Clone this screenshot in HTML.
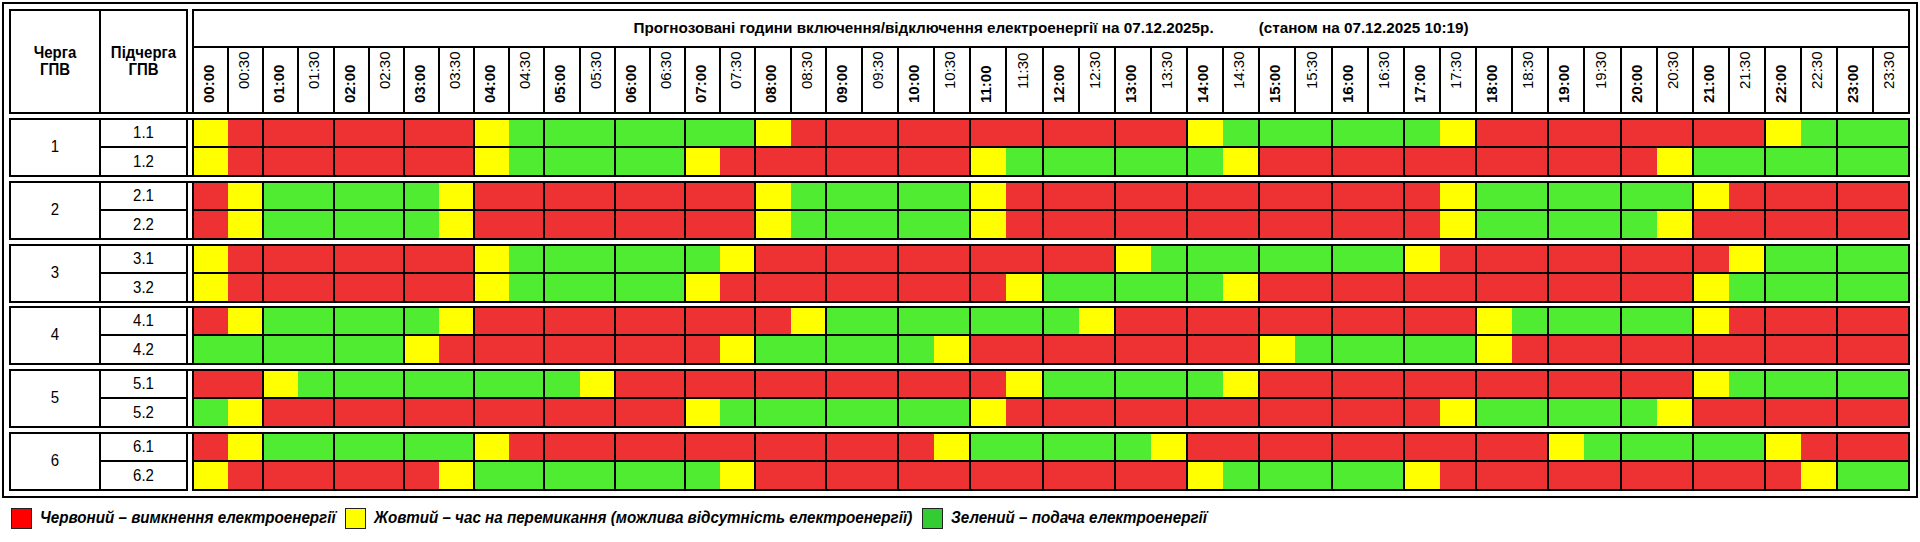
<!DOCTYPE html>
<html><head><meta charset="utf-8"><style>
html,body{margin:0;padding:0;background:#fff;}
body{width:1920px;height:542px;overflow:hidden;position:relative;font-family:"Liberation Sans",sans-serif;color:#000;}
body>div,body>span{position:absolute;}
.hl{font-weight:bold;font-size:15px;line-height:17px;text-align:center;transform-origin:50% 14px;}
.title{font-weight:bold;font-size:15.25px;line-height:17px;text-align:center;white-space:nowrap;transform-origin:50% 14px;}
.tb,.tr{font-size:15px;line-height:17px;white-space:nowrap;transform-origin:0 0;transform:rotate(-90deg) scale(1.0,1.035);}
.tb{font-weight:bold;}
.rl{font-size:15px;line-height:17px;text-align:center;transform-origin:50% 14px;}
.lg{font-weight:bold;font-style:italic;font-size:15.2px;line-height:17px;white-space:nowrap;transform-origin:0 14px;}
</style></head><body>
<div style="left:2px;top:2px;width:1916px;height:2px;background:#000"></div>
<div style="left:2px;top:496px;width:1916px;height:2px;background:#000"></div>
<div style="left:2px;top:2px;width:2px;height:496px;background:#000"></div>
<div style="left:1916px;top:2px;width:2px;height:496px;background:#000"></div>
<div style="left:9px;top:9px;width:179px;height:2px;background:#000"></div>
<div style="left:9px;top:112px;width:179px;height:2px;background:#000"></div>
<div style="left:9px;top:9px;width:2px;height:105px;background:#000"></div>
<div style="left:186px;top:9px;width:2px;height:105px;background:#000"></div>
<div style="left:99px;top:9px;width:2px;height:105px;background:#000"></div>
<div style="left:188px;top:112px;width:4px;height:2px;background:#000"></div>
<div style="left:192px;top:9px;width:1718px;height:2px;background:#000"></div>
<div style="left:192px;top:112px;width:1718px;height:2px;background:#000"></div>
<div style="left:192px;top:9px;width:2px;height:105px;background:#000"></div>
<div style="left:1908px;top:9px;width:2px;height:105px;background:#000"></div>
<div style="left:192px;top:46px;width:1718px;height:2px;background:#000"></div>
<div style="left:227px;top:46px;width:2px;height:68px;background:#000"></div>
<div style="left:262px;top:46px;width:2px;height:68px;background:#000"></div>
<div style="left:297px;top:46px;width:2px;height:68px;background:#000"></div>
<div style="left:333px;top:46px;width:2px;height:68px;background:#000"></div>
<div style="left:368px;top:46px;width:2px;height:68px;background:#000"></div>
<div style="left:403px;top:46px;width:2px;height:68px;background:#000"></div>
<div style="left:438px;top:46px;width:2px;height:68px;background:#000"></div>
<div style="left:473px;top:46px;width:2px;height:68px;background:#000"></div>
<div style="left:508px;top:46px;width:2px;height:68px;background:#000"></div>
<div style="left:543px;top:46px;width:2px;height:68px;background:#000"></div>
<div style="left:579px;top:46px;width:2px;height:68px;background:#000"></div>
<div style="left:614px;top:46px;width:2px;height:68px;background:#000"></div>
<div style="left:649px;top:46px;width:2px;height:68px;background:#000"></div>
<div style="left:684px;top:46px;width:2px;height:68px;background:#000"></div>
<div style="left:719px;top:46px;width:2px;height:68px;background:#000"></div>
<div style="left:754px;top:46px;width:2px;height:68px;background:#000"></div>
<div style="left:790px;top:46px;width:2px;height:68px;background:#000"></div>
<div style="left:825px;top:46px;width:2px;height:68px;background:#000"></div>
<div style="left:861px;top:46px;width:2px;height:68px;background:#000"></div>
<div style="left:897px;top:46px;width:2px;height:68px;background:#000"></div>
<div style="left:933px;top:46px;width:2px;height:68px;background:#000"></div>
<div style="left:969px;top:46px;width:2px;height:68px;background:#000"></div>
<div style="left:1005px;top:46px;width:2px;height:68px;background:#000"></div>
<div style="left:1042px;top:46px;width:2px;height:68px;background:#000"></div>
<div style="left:1078px;top:46px;width:2px;height:68px;background:#000"></div>
<div style="left:1114px;top:46px;width:2px;height:68px;background:#000"></div>
<div style="left:1150px;top:46px;width:2px;height:68px;background:#000"></div>
<div style="left:1186px;top:46px;width:2px;height:68px;background:#000"></div>
<div style="left:1222px;top:46px;width:2px;height:68px;background:#000"></div>
<div style="left:1258px;top:46px;width:2px;height:68px;background:#000"></div>
<div style="left:1294px;top:46px;width:2px;height:68px;background:#000"></div>
<div style="left:1331px;top:46px;width:2px;height:68px;background:#000"></div>
<div style="left:1367px;top:46px;width:2px;height:68px;background:#000"></div>
<div style="left:1403px;top:46px;width:2px;height:68px;background:#000"></div>
<div style="left:1439px;top:46px;width:2px;height:68px;background:#000"></div>
<div style="left:1475px;top:46px;width:2px;height:68px;background:#000"></div>
<div style="left:1511px;top:46px;width:2px;height:68px;background:#000"></div>
<div style="left:1547px;top:46px;width:2px;height:68px;background:#000"></div>
<div style="left:1583px;top:46px;width:2px;height:68px;background:#000"></div>
<div style="left:1620px;top:46px;width:2px;height:68px;background:#000"></div>
<div style="left:1656px;top:46px;width:2px;height:68px;background:#000"></div>
<div style="left:1692px;top:46px;width:2px;height:68px;background:#000"></div>
<div style="left:1728px;top:46px;width:2px;height:68px;background:#000"></div>
<div style="left:1764px;top:46px;width:2px;height:68px;background:#000"></div>
<div style="left:1800px;top:46px;width:2px;height:68px;background:#000"></div>
<div style="left:1836px;top:46px;width:2px;height:68px;background:#000"></div>
<div style="left:1872px;top:46px;width:2px;height:68px;background:#000"></div>
<div class="hl" style="left:11px;width:88px;top:44px;transform:scaleY(1.07)">Черга</div>
<div class="hl" style="left:11px;width:88px;top:61px;transform:scaleY(1.07)">ГПВ</div>
<div class="hl" style="left:101px;width:85px;top:44px;transform:scaleY(1.07)">Підчерга</div>
<div class="hl" style="left:101px;width:85px;top:61px;transform:scaleY(1.07)">ГПВ</div>
<div class="title" style="left:192px;width:1718px;top:19px">Прогнозовані години включення/відключення електроенергії на 07.12.2025р.<span style="display:inline-block;width:45px"></span>(станом на 07.12.2025 10:19)</div>
<div class="tb" style="left:199.50px;top:103px">00:00</div>
<div class="tr" style="left:234.50px;top:89px">00:30</div>
<div class="tb" style="left:269.50px;top:103px">01:00</div>
<div class="tr" style="left:305.00px;top:89px">01:30</div>
<div class="tb" style="left:340.50px;top:103px">02:00</div>
<div class="tr" style="left:375.50px;top:89px">02:30</div>
<div class="tb" style="left:410.50px;top:103px">03:00</div>
<div class="tr" style="left:445.50px;top:89px">03:30</div>
<div class="tb" style="left:480.50px;top:103px">04:00</div>
<div class="tr" style="left:515.50px;top:89px">04:30</div>
<div class="tb" style="left:551.00px;top:103px">05:00</div>
<div class="tr" style="left:586.50px;top:89px">05:30</div>
<div class="tb" style="left:621.50px;top:103px">06:00</div>
<div class="tr" style="left:656.50px;top:89px">06:30</div>
<div class="tb" style="left:691.50px;top:103px">07:00</div>
<div class="tr" style="left:726.50px;top:89px">07:30</div>
<div class="tb" style="left:762.00px;top:103px">08:00</div>
<div class="tr" style="left:797.50px;top:89px">08:30</div>
<div class="tb" style="left:833.00px;top:103px">09:00</div>
<div class="tr" style="left:869.00px;top:89px">09:30</div>
<div class="tb" style="left:905.00px;top:103px">10:00</div>
<div class="tr" style="left:941.00px;top:89px">10:30</div>
<div class="tb" style="left:977.00px;top:103px">11:00</div>
<div class="tr" style="left:1013.50px;top:89px">11:30</div>
<div class="tb" style="left:1050.00px;top:103px">12:00</div>
<div class="tr" style="left:1086.00px;top:89px">12:30</div>
<div class="tb" style="left:1122.00px;top:103px">13:00</div>
<div class="tr" style="left:1158.00px;top:89px">13:30</div>
<div class="tb" style="left:1194.00px;top:103px">14:00</div>
<div class="tr" style="left:1230.00px;top:89px">14:30</div>
<div class="tb" style="left:1266.00px;top:103px">15:00</div>
<div class="tr" style="left:1302.50px;top:89px">15:30</div>
<div class="tb" style="left:1339.00px;top:103px">16:00</div>
<div class="tr" style="left:1375.00px;top:89px">16:30</div>
<div class="tb" style="left:1411.00px;top:103px">17:00</div>
<div class="tr" style="left:1447.00px;top:89px">17:30</div>
<div class="tb" style="left:1483.00px;top:103px">18:00</div>
<div class="tr" style="left:1519.00px;top:89px">18:30</div>
<div class="tb" style="left:1555.00px;top:103px">19:00</div>
<div class="tr" style="left:1591.50px;top:89px">19:30</div>
<div class="tb" style="left:1628.00px;top:103px">20:00</div>
<div class="tr" style="left:1664.00px;top:89px">20:30</div>
<div class="tb" style="left:1700.00px;top:103px">21:00</div>
<div class="tr" style="left:1736.00px;top:89px">21:30</div>
<div class="tb" style="left:1772.00px;top:103px">22:00</div>
<div class="tr" style="left:1808.00px;top:89px">22:30</div>
<div class="tb" style="left:1844.00px;top:103px">23:00</div>
<div class="tr" style="left:1880.00px;top:89px">23:30</div>
<div style="left:192px;top:120px;width:36px;height:26px;background:#ffff00"></div>
<div style="left:228px;top:120px;width:246px;height:26px;background:#ee3233"></div>
<div style="left:474px;top:120px;width:35px;height:26px;background:#ffff00"></div>
<div style="left:509px;top:120px;width:246px;height:26px;background:#4fec31"></div>
<div style="left:755px;top:120px;width:36px;height:26px;background:#ffff00"></div>
<div style="left:791px;top:120px;width:396px;height:26px;background:#ee3233"></div>
<div style="left:1187px;top:120px;width:36px;height:26px;background:#ffff00"></div>
<div style="left:1223px;top:120px;width:217px;height:26px;background:#4fec31"></div>
<div style="left:1440px;top:120px;width:36px;height:26px;background:#ffff00"></div>
<div style="left:1476px;top:120px;width:289px;height:26px;background:#ee3233"></div>
<div style="left:1765px;top:120px;width:36px;height:26px;background:#ffff00"></div>
<div style="left:1801px;top:120px;width:107px;height:26px;background:#4fec31"></div>
<div style="left:192px;top:148px;width:36px;height:27px;background:#ffff00"></div>
<div style="left:228px;top:148px;width:246px;height:27px;background:#ee3233"></div>
<div style="left:474px;top:148px;width:35px;height:27px;background:#ffff00"></div>
<div style="left:509px;top:148px;width:176px;height:27px;background:#4fec31"></div>
<div style="left:685px;top:148px;width:35px;height:27px;background:#ffff00"></div>
<div style="left:720px;top:148px;width:250px;height:27px;background:#ee3233"></div>
<div style="left:970px;top:148px;width:36px;height:27px;background:#ffff00"></div>
<div style="left:1006px;top:148px;width:217px;height:27px;background:#4fec31"></div>
<div style="left:1223px;top:148px;width:36px;height:27px;background:#ffff00"></div>
<div style="left:1259px;top:148px;width:398px;height:27px;background:#ee3233"></div>
<div style="left:1657px;top:148px;width:36px;height:27px;background:#ffff00"></div>
<div style="left:1693px;top:148px;width:215px;height:27px;background:#4fec31"></div>
<div style="left:9px;top:118px;width:179px;height:2px;background:#000"></div>
<div style="left:9px;top:175px;width:179px;height:2px;background:#000"></div>
<div style="left:9px;top:118px;width:2px;height:59px;background:#000"></div>
<div style="left:186px;top:118px;width:2px;height:59px;background:#000"></div>
<div style="left:99px;top:118px;width:2px;height:59px;background:#000"></div>
<div style="left:100px;top:146px;width:88px;height:2px;background:#000"></div>
<div style="left:192px;top:118px;width:1718px;height:2px;background:#000"></div>
<div style="left:192px;top:175px;width:1718px;height:2px;background:#000"></div>
<div style="left:192px;top:118px;width:2px;height:59px;background:#000"></div>
<div style="left:1908px;top:118px;width:2px;height:59px;background:#000"></div>
<div style="left:192px;top:146px;width:1718px;height:2px;background:#000"></div>
<div style="left:262px;top:118px;width:2px;height:59px;background:#000"></div>
<div style="left:333px;top:118px;width:2px;height:59px;background:#000"></div>
<div style="left:403px;top:118px;width:2px;height:59px;background:#000"></div>
<div style="left:473px;top:118px;width:2px;height:59px;background:#000"></div>
<div style="left:543px;top:118px;width:2px;height:59px;background:#000"></div>
<div style="left:614px;top:118px;width:2px;height:59px;background:#000"></div>
<div style="left:684px;top:118px;width:2px;height:59px;background:#000"></div>
<div style="left:754px;top:118px;width:2px;height:59px;background:#000"></div>
<div style="left:825px;top:118px;width:2px;height:59px;background:#000"></div>
<div style="left:897px;top:118px;width:2px;height:59px;background:#000"></div>
<div style="left:969px;top:118px;width:2px;height:59px;background:#000"></div>
<div style="left:1042px;top:118px;width:2px;height:59px;background:#000"></div>
<div style="left:1114px;top:118px;width:2px;height:59px;background:#000"></div>
<div style="left:1186px;top:118px;width:2px;height:59px;background:#000"></div>
<div style="left:1258px;top:118px;width:2px;height:59px;background:#000"></div>
<div style="left:1331px;top:118px;width:2px;height:59px;background:#000"></div>
<div style="left:1403px;top:118px;width:2px;height:59px;background:#000"></div>
<div style="left:1475px;top:118px;width:2px;height:59px;background:#000"></div>
<div style="left:1547px;top:118px;width:2px;height:59px;background:#000"></div>
<div style="left:1620px;top:118px;width:2px;height:59px;background:#000"></div>
<div style="left:1692px;top:118px;width:2px;height:59px;background:#000"></div>
<div style="left:1764px;top:118px;width:2px;height:59px;background:#000"></div>
<div style="left:1836px;top:118px;width:2px;height:59px;background:#000"></div>
<div style="left:188px;top:118px;width:4px;height:2px;background:#000"></div>
<div style="left:188px;top:175px;width:4px;height:2px;background:#000"></div>
<div class="rl" style="left:11px;width:88px;top:138px;transform:scaleY(1.07)">1</div>
<div class="rl" style="left:101px;width:85px;top:124px;transform:scaleY(1.07)">1.1</div>
<div class="rl" style="left:101px;width:85px;top:153px;transform:scaleY(1.07)">1.2</div>
<div style="left:192px;top:183px;width:36px;height:26px;background:#ee3233"></div>
<div style="left:228px;top:183px;width:35px;height:26px;background:#ffff00"></div>
<div style="left:263px;top:183px;width:176px;height:26px;background:#4fec31"></div>
<div style="left:439px;top:183px;width:35px;height:26px;background:#ffff00"></div>
<div style="left:474px;top:183px;width:281px;height:26px;background:#ee3233"></div>
<div style="left:755px;top:183px;width:36px;height:26px;background:#ffff00"></div>
<div style="left:791px;top:183px;width:179px;height:26px;background:#4fec31"></div>
<div style="left:970px;top:183px;width:36px;height:26px;background:#ffff00"></div>
<div style="left:1006px;top:183px;width:434px;height:26px;background:#ee3233"></div>
<div style="left:1440px;top:183px;width:36px;height:26px;background:#ffff00"></div>
<div style="left:1476px;top:183px;width:217px;height:26px;background:#4fec31"></div>
<div style="left:1693px;top:183px;width:36px;height:26px;background:#ffff00"></div>
<div style="left:1729px;top:183px;width:179px;height:26px;background:#ee3233"></div>
<div style="left:192px;top:211px;width:36px;height:27px;background:#ee3233"></div>
<div style="left:228px;top:211px;width:35px;height:27px;background:#ffff00"></div>
<div style="left:263px;top:211px;width:176px;height:27px;background:#4fec31"></div>
<div style="left:439px;top:211px;width:35px;height:27px;background:#ffff00"></div>
<div style="left:474px;top:211px;width:281px;height:27px;background:#ee3233"></div>
<div style="left:755px;top:211px;width:36px;height:27px;background:#ffff00"></div>
<div style="left:791px;top:211px;width:179px;height:27px;background:#4fec31"></div>
<div style="left:970px;top:211px;width:36px;height:27px;background:#ffff00"></div>
<div style="left:1006px;top:211px;width:434px;height:27px;background:#ee3233"></div>
<div style="left:1440px;top:211px;width:36px;height:27px;background:#ffff00"></div>
<div style="left:1476px;top:211px;width:181px;height:27px;background:#4fec31"></div>
<div style="left:1657px;top:211px;width:36px;height:27px;background:#ffff00"></div>
<div style="left:1693px;top:211px;width:215px;height:27px;background:#ee3233"></div>
<div style="left:9px;top:181px;width:179px;height:2px;background:#000"></div>
<div style="left:9px;top:238px;width:179px;height:2px;background:#000"></div>
<div style="left:9px;top:181px;width:2px;height:59px;background:#000"></div>
<div style="left:186px;top:181px;width:2px;height:59px;background:#000"></div>
<div style="left:99px;top:181px;width:2px;height:59px;background:#000"></div>
<div style="left:100px;top:209px;width:88px;height:2px;background:#000"></div>
<div style="left:192px;top:181px;width:1718px;height:2px;background:#000"></div>
<div style="left:192px;top:238px;width:1718px;height:2px;background:#000"></div>
<div style="left:192px;top:181px;width:2px;height:59px;background:#000"></div>
<div style="left:1908px;top:181px;width:2px;height:59px;background:#000"></div>
<div style="left:192px;top:209px;width:1718px;height:2px;background:#000"></div>
<div style="left:262px;top:181px;width:2px;height:59px;background:#000"></div>
<div style="left:333px;top:181px;width:2px;height:59px;background:#000"></div>
<div style="left:403px;top:181px;width:2px;height:59px;background:#000"></div>
<div style="left:473px;top:181px;width:2px;height:59px;background:#000"></div>
<div style="left:543px;top:181px;width:2px;height:59px;background:#000"></div>
<div style="left:614px;top:181px;width:2px;height:59px;background:#000"></div>
<div style="left:684px;top:181px;width:2px;height:59px;background:#000"></div>
<div style="left:754px;top:181px;width:2px;height:59px;background:#000"></div>
<div style="left:825px;top:181px;width:2px;height:59px;background:#000"></div>
<div style="left:897px;top:181px;width:2px;height:59px;background:#000"></div>
<div style="left:969px;top:181px;width:2px;height:59px;background:#000"></div>
<div style="left:1042px;top:181px;width:2px;height:59px;background:#000"></div>
<div style="left:1114px;top:181px;width:2px;height:59px;background:#000"></div>
<div style="left:1186px;top:181px;width:2px;height:59px;background:#000"></div>
<div style="left:1258px;top:181px;width:2px;height:59px;background:#000"></div>
<div style="left:1331px;top:181px;width:2px;height:59px;background:#000"></div>
<div style="left:1403px;top:181px;width:2px;height:59px;background:#000"></div>
<div style="left:1475px;top:181px;width:2px;height:59px;background:#000"></div>
<div style="left:1547px;top:181px;width:2px;height:59px;background:#000"></div>
<div style="left:1620px;top:181px;width:2px;height:59px;background:#000"></div>
<div style="left:1692px;top:181px;width:2px;height:59px;background:#000"></div>
<div style="left:1764px;top:181px;width:2px;height:59px;background:#000"></div>
<div style="left:1836px;top:181px;width:2px;height:59px;background:#000"></div>
<div style="left:188px;top:181px;width:4px;height:2px;background:#000"></div>
<div style="left:188px;top:238px;width:4px;height:2px;background:#000"></div>
<div class="rl" style="left:11px;width:88px;top:201px;transform:scaleY(1.07)">2</div>
<div class="rl" style="left:101px;width:85px;top:187px;transform:scaleY(1.07)">2.1</div>
<div class="rl" style="left:101px;width:85px;top:216px;transform:scaleY(1.07)">2.2</div>
<div style="left:192px;top:246px;width:36px;height:26px;background:#ffff00"></div>
<div style="left:228px;top:246px;width:246px;height:26px;background:#ee3233"></div>
<div style="left:474px;top:246px;width:35px;height:26px;background:#ffff00"></div>
<div style="left:509px;top:246px;width:211px;height:26px;background:#4fec31"></div>
<div style="left:720px;top:246px;width:35px;height:26px;background:#ffff00"></div>
<div style="left:755px;top:246px;width:360px;height:26px;background:#ee3233"></div>
<div style="left:1115px;top:246px;width:36px;height:26px;background:#ffff00"></div>
<div style="left:1151px;top:246px;width:253px;height:26px;background:#4fec31"></div>
<div style="left:1404px;top:246px;width:36px;height:26px;background:#ffff00"></div>
<div style="left:1440px;top:246px;width:289px;height:26px;background:#ee3233"></div>
<div style="left:1729px;top:246px;width:36px;height:26px;background:#ffff00"></div>
<div style="left:1765px;top:246px;width:143px;height:26px;background:#4fec31"></div>
<div style="left:192px;top:274px;width:36px;height:27px;background:#ffff00"></div>
<div style="left:228px;top:274px;width:246px;height:27px;background:#ee3233"></div>
<div style="left:474px;top:274px;width:35px;height:27px;background:#ffff00"></div>
<div style="left:509px;top:274px;width:176px;height:27px;background:#4fec31"></div>
<div style="left:685px;top:274px;width:35px;height:27px;background:#ffff00"></div>
<div style="left:720px;top:274px;width:286px;height:27px;background:#ee3233"></div>
<div style="left:1006px;top:274px;width:37px;height:27px;background:#ffff00"></div>
<div style="left:1043px;top:274px;width:180px;height:27px;background:#4fec31"></div>
<div style="left:1223px;top:274px;width:36px;height:27px;background:#ffff00"></div>
<div style="left:1259px;top:274px;width:434px;height:27px;background:#ee3233"></div>
<div style="left:1693px;top:274px;width:36px;height:27px;background:#ffff00"></div>
<div style="left:1729px;top:274px;width:179px;height:27px;background:#4fec31"></div>
<div style="left:9px;top:244px;width:179px;height:2px;background:#000"></div>
<div style="left:9px;top:301px;width:179px;height:2px;background:#000"></div>
<div style="left:9px;top:244px;width:2px;height:59px;background:#000"></div>
<div style="left:186px;top:244px;width:2px;height:59px;background:#000"></div>
<div style="left:99px;top:244px;width:2px;height:59px;background:#000"></div>
<div style="left:100px;top:272px;width:88px;height:2px;background:#000"></div>
<div style="left:192px;top:244px;width:1718px;height:2px;background:#000"></div>
<div style="left:192px;top:301px;width:1718px;height:2px;background:#000"></div>
<div style="left:192px;top:244px;width:2px;height:59px;background:#000"></div>
<div style="left:1908px;top:244px;width:2px;height:59px;background:#000"></div>
<div style="left:192px;top:272px;width:1718px;height:2px;background:#000"></div>
<div style="left:262px;top:244px;width:2px;height:59px;background:#000"></div>
<div style="left:333px;top:244px;width:2px;height:59px;background:#000"></div>
<div style="left:403px;top:244px;width:2px;height:59px;background:#000"></div>
<div style="left:473px;top:244px;width:2px;height:59px;background:#000"></div>
<div style="left:543px;top:244px;width:2px;height:59px;background:#000"></div>
<div style="left:614px;top:244px;width:2px;height:59px;background:#000"></div>
<div style="left:684px;top:244px;width:2px;height:59px;background:#000"></div>
<div style="left:754px;top:244px;width:2px;height:59px;background:#000"></div>
<div style="left:825px;top:244px;width:2px;height:59px;background:#000"></div>
<div style="left:897px;top:244px;width:2px;height:59px;background:#000"></div>
<div style="left:969px;top:244px;width:2px;height:59px;background:#000"></div>
<div style="left:1042px;top:244px;width:2px;height:59px;background:#000"></div>
<div style="left:1114px;top:244px;width:2px;height:59px;background:#000"></div>
<div style="left:1186px;top:244px;width:2px;height:59px;background:#000"></div>
<div style="left:1258px;top:244px;width:2px;height:59px;background:#000"></div>
<div style="left:1331px;top:244px;width:2px;height:59px;background:#000"></div>
<div style="left:1403px;top:244px;width:2px;height:59px;background:#000"></div>
<div style="left:1475px;top:244px;width:2px;height:59px;background:#000"></div>
<div style="left:1547px;top:244px;width:2px;height:59px;background:#000"></div>
<div style="left:1620px;top:244px;width:2px;height:59px;background:#000"></div>
<div style="left:1692px;top:244px;width:2px;height:59px;background:#000"></div>
<div style="left:1764px;top:244px;width:2px;height:59px;background:#000"></div>
<div style="left:1836px;top:244px;width:2px;height:59px;background:#000"></div>
<div style="left:188px;top:244px;width:4px;height:2px;background:#000"></div>
<div style="left:188px;top:301px;width:4px;height:2px;background:#000"></div>
<div class="rl" style="left:11px;width:88px;top:264px;transform:scaleY(1.07)">3</div>
<div class="rl" style="left:101px;width:85px;top:250px;transform:scaleY(1.07)">3.1</div>
<div class="rl" style="left:101px;width:85px;top:279px;transform:scaleY(1.07)">3.2</div>
<div style="left:192px;top:308px;width:36px;height:26px;background:#ee3233"></div>
<div style="left:228px;top:308px;width:35px;height:26px;background:#ffff00"></div>
<div style="left:263px;top:308px;width:176px;height:26px;background:#4fec31"></div>
<div style="left:439px;top:308px;width:35px;height:26px;background:#ffff00"></div>
<div style="left:474px;top:308px;width:317px;height:26px;background:#ee3233"></div>
<div style="left:791px;top:308px;width:35px;height:26px;background:#ffff00"></div>
<div style="left:826px;top:308px;width:253px;height:26px;background:#4fec31"></div>
<div style="left:1079px;top:308px;width:36px;height:26px;background:#ffff00"></div>
<div style="left:1115px;top:308px;width:361px;height:26px;background:#ee3233"></div>
<div style="left:1476px;top:308px;width:36px;height:26px;background:#ffff00"></div>
<div style="left:1512px;top:308px;width:181px;height:26px;background:#4fec31"></div>
<div style="left:1693px;top:308px;width:36px;height:26px;background:#ffff00"></div>
<div style="left:1729px;top:308px;width:179px;height:26px;background:#ee3233"></div>
<div style="left:192px;top:336px;width:212px;height:27px;background:#4fec31"></div>
<div style="left:404px;top:336px;width:35px;height:27px;background:#ffff00"></div>
<div style="left:439px;top:336px;width:281px;height:27px;background:#ee3233"></div>
<div style="left:720px;top:336px;width:35px;height:27px;background:#ffff00"></div>
<div style="left:755px;top:336px;width:179px;height:27px;background:#4fec31"></div>
<div style="left:934px;top:336px;width:36px;height:27px;background:#ffff00"></div>
<div style="left:970px;top:336px;width:289px;height:27px;background:#ee3233"></div>
<div style="left:1259px;top:336px;width:36px;height:27px;background:#ffff00"></div>
<div style="left:1295px;top:336px;width:181px;height:27px;background:#4fec31"></div>
<div style="left:1476px;top:336px;width:36px;height:27px;background:#ffff00"></div>
<div style="left:1512px;top:336px;width:396px;height:27px;background:#ee3233"></div>
<div style="left:9px;top:306px;width:179px;height:2px;background:#000"></div>
<div style="left:9px;top:363px;width:179px;height:2px;background:#000"></div>
<div style="left:9px;top:306px;width:2px;height:59px;background:#000"></div>
<div style="left:186px;top:306px;width:2px;height:59px;background:#000"></div>
<div style="left:99px;top:306px;width:2px;height:59px;background:#000"></div>
<div style="left:100px;top:334px;width:88px;height:2px;background:#000"></div>
<div style="left:192px;top:306px;width:1718px;height:2px;background:#000"></div>
<div style="left:192px;top:363px;width:1718px;height:2px;background:#000"></div>
<div style="left:192px;top:306px;width:2px;height:59px;background:#000"></div>
<div style="left:1908px;top:306px;width:2px;height:59px;background:#000"></div>
<div style="left:192px;top:334px;width:1718px;height:2px;background:#000"></div>
<div style="left:262px;top:306px;width:2px;height:59px;background:#000"></div>
<div style="left:333px;top:306px;width:2px;height:59px;background:#000"></div>
<div style="left:403px;top:306px;width:2px;height:59px;background:#000"></div>
<div style="left:473px;top:306px;width:2px;height:59px;background:#000"></div>
<div style="left:543px;top:306px;width:2px;height:59px;background:#000"></div>
<div style="left:614px;top:306px;width:2px;height:59px;background:#000"></div>
<div style="left:684px;top:306px;width:2px;height:59px;background:#000"></div>
<div style="left:754px;top:306px;width:2px;height:59px;background:#000"></div>
<div style="left:825px;top:306px;width:2px;height:59px;background:#000"></div>
<div style="left:897px;top:306px;width:2px;height:59px;background:#000"></div>
<div style="left:969px;top:306px;width:2px;height:59px;background:#000"></div>
<div style="left:1042px;top:306px;width:2px;height:59px;background:#000"></div>
<div style="left:1114px;top:306px;width:2px;height:59px;background:#000"></div>
<div style="left:1186px;top:306px;width:2px;height:59px;background:#000"></div>
<div style="left:1258px;top:306px;width:2px;height:59px;background:#000"></div>
<div style="left:1331px;top:306px;width:2px;height:59px;background:#000"></div>
<div style="left:1403px;top:306px;width:2px;height:59px;background:#000"></div>
<div style="left:1475px;top:306px;width:2px;height:59px;background:#000"></div>
<div style="left:1547px;top:306px;width:2px;height:59px;background:#000"></div>
<div style="left:1620px;top:306px;width:2px;height:59px;background:#000"></div>
<div style="left:1692px;top:306px;width:2px;height:59px;background:#000"></div>
<div style="left:1764px;top:306px;width:2px;height:59px;background:#000"></div>
<div style="left:1836px;top:306px;width:2px;height:59px;background:#000"></div>
<div style="left:188px;top:306px;width:4px;height:2px;background:#000"></div>
<div style="left:188px;top:363px;width:4px;height:2px;background:#000"></div>
<div class="rl" style="left:11px;width:88px;top:326px;transform:scaleY(1.07)">4</div>
<div class="rl" style="left:101px;width:85px;top:312px;transform:scaleY(1.07)">4.1</div>
<div class="rl" style="left:101px;width:85px;top:341px;transform:scaleY(1.07)">4.2</div>
<div style="left:192px;top:371px;width:71px;height:26px;background:#ee3233"></div>
<div style="left:263px;top:371px;width:35px;height:26px;background:#ffff00"></div>
<div style="left:298px;top:371px;width:282px;height:26px;background:#4fec31"></div>
<div style="left:580px;top:371px;width:35px;height:26px;background:#ffff00"></div>
<div style="left:615px;top:371px;width:391px;height:26px;background:#ee3233"></div>
<div style="left:1006px;top:371px;width:37px;height:26px;background:#ffff00"></div>
<div style="left:1043px;top:371px;width:180px;height:26px;background:#4fec31"></div>
<div style="left:1223px;top:371px;width:36px;height:26px;background:#ffff00"></div>
<div style="left:1259px;top:371px;width:434px;height:26px;background:#ee3233"></div>
<div style="left:1693px;top:371px;width:36px;height:26px;background:#ffff00"></div>
<div style="left:1729px;top:371px;width:179px;height:26px;background:#4fec31"></div>
<div style="left:192px;top:399px;width:36px;height:27px;background:#4fec31"></div>
<div style="left:228px;top:399px;width:35px;height:27px;background:#ffff00"></div>
<div style="left:263px;top:399px;width:422px;height:27px;background:#ee3233"></div>
<div style="left:685px;top:399px;width:35px;height:27px;background:#ffff00"></div>
<div style="left:720px;top:399px;width:250px;height:27px;background:#4fec31"></div>
<div style="left:970px;top:399px;width:36px;height:27px;background:#ffff00"></div>
<div style="left:1006px;top:399px;width:434px;height:27px;background:#ee3233"></div>
<div style="left:1440px;top:399px;width:36px;height:27px;background:#ffff00"></div>
<div style="left:1476px;top:399px;width:181px;height:27px;background:#4fec31"></div>
<div style="left:1657px;top:399px;width:36px;height:27px;background:#ffff00"></div>
<div style="left:1693px;top:399px;width:215px;height:27px;background:#ee3233"></div>
<div style="left:9px;top:369px;width:179px;height:2px;background:#000"></div>
<div style="left:9px;top:426px;width:179px;height:2px;background:#000"></div>
<div style="left:9px;top:369px;width:2px;height:59px;background:#000"></div>
<div style="left:186px;top:369px;width:2px;height:59px;background:#000"></div>
<div style="left:99px;top:369px;width:2px;height:59px;background:#000"></div>
<div style="left:100px;top:397px;width:88px;height:2px;background:#000"></div>
<div style="left:192px;top:369px;width:1718px;height:2px;background:#000"></div>
<div style="left:192px;top:426px;width:1718px;height:2px;background:#000"></div>
<div style="left:192px;top:369px;width:2px;height:59px;background:#000"></div>
<div style="left:1908px;top:369px;width:2px;height:59px;background:#000"></div>
<div style="left:192px;top:397px;width:1718px;height:2px;background:#000"></div>
<div style="left:262px;top:369px;width:2px;height:59px;background:#000"></div>
<div style="left:333px;top:369px;width:2px;height:59px;background:#000"></div>
<div style="left:403px;top:369px;width:2px;height:59px;background:#000"></div>
<div style="left:473px;top:369px;width:2px;height:59px;background:#000"></div>
<div style="left:543px;top:369px;width:2px;height:59px;background:#000"></div>
<div style="left:614px;top:369px;width:2px;height:59px;background:#000"></div>
<div style="left:684px;top:369px;width:2px;height:59px;background:#000"></div>
<div style="left:754px;top:369px;width:2px;height:59px;background:#000"></div>
<div style="left:825px;top:369px;width:2px;height:59px;background:#000"></div>
<div style="left:897px;top:369px;width:2px;height:59px;background:#000"></div>
<div style="left:969px;top:369px;width:2px;height:59px;background:#000"></div>
<div style="left:1042px;top:369px;width:2px;height:59px;background:#000"></div>
<div style="left:1114px;top:369px;width:2px;height:59px;background:#000"></div>
<div style="left:1186px;top:369px;width:2px;height:59px;background:#000"></div>
<div style="left:1258px;top:369px;width:2px;height:59px;background:#000"></div>
<div style="left:1331px;top:369px;width:2px;height:59px;background:#000"></div>
<div style="left:1403px;top:369px;width:2px;height:59px;background:#000"></div>
<div style="left:1475px;top:369px;width:2px;height:59px;background:#000"></div>
<div style="left:1547px;top:369px;width:2px;height:59px;background:#000"></div>
<div style="left:1620px;top:369px;width:2px;height:59px;background:#000"></div>
<div style="left:1692px;top:369px;width:2px;height:59px;background:#000"></div>
<div style="left:1764px;top:369px;width:2px;height:59px;background:#000"></div>
<div style="left:1836px;top:369px;width:2px;height:59px;background:#000"></div>
<div style="left:188px;top:369px;width:4px;height:2px;background:#000"></div>
<div style="left:188px;top:426px;width:4px;height:2px;background:#000"></div>
<div class="rl" style="left:11px;width:88px;top:389px;transform:scaleY(1.07)">5</div>
<div class="rl" style="left:101px;width:85px;top:375px;transform:scaleY(1.07)">5.1</div>
<div class="rl" style="left:101px;width:85px;top:404px;transform:scaleY(1.07)">5.2</div>
<div style="left:192px;top:434px;width:36px;height:26px;background:#ee3233"></div>
<div style="left:228px;top:434px;width:35px;height:26px;background:#ffff00"></div>
<div style="left:263px;top:434px;width:211px;height:26px;background:#4fec31"></div>
<div style="left:474px;top:434px;width:35px;height:26px;background:#ffff00"></div>
<div style="left:509px;top:434px;width:425px;height:26px;background:#ee3233"></div>
<div style="left:934px;top:434px;width:36px;height:26px;background:#ffff00"></div>
<div style="left:970px;top:434px;width:181px;height:26px;background:#4fec31"></div>
<div style="left:1151px;top:434px;width:36px;height:26px;background:#ffff00"></div>
<div style="left:1187px;top:434px;width:361px;height:26px;background:#ee3233"></div>
<div style="left:1548px;top:434px;width:36px;height:26px;background:#ffff00"></div>
<div style="left:1584px;top:434px;width:181px;height:26px;background:#4fec31"></div>
<div style="left:1765px;top:434px;width:36px;height:26px;background:#ffff00"></div>
<div style="left:1801px;top:434px;width:107px;height:26px;background:#ee3233"></div>
<div style="left:192px;top:462px;width:36px;height:27px;background:#ffff00"></div>
<div style="left:228px;top:462px;width:211px;height:27px;background:#ee3233"></div>
<div style="left:439px;top:462px;width:35px;height:27px;background:#ffff00"></div>
<div style="left:474px;top:462px;width:246px;height:27px;background:#4fec31"></div>
<div style="left:720px;top:462px;width:35px;height:27px;background:#ffff00"></div>
<div style="left:755px;top:462px;width:432px;height:27px;background:#ee3233"></div>
<div style="left:1187px;top:462px;width:36px;height:27px;background:#ffff00"></div>
<div style="left:1223px;top:462px;width:181px;height:27px;background:#4fec31"></div>
<div style="left:1404px;top:462px;width:36px;height:27px;background:#ffff00"></div>
<div style="left:1440px;top:462px;width:361px;height:27px;background:#ee3233"></div>
<div style="left:1801px;top:462px;width:36px;height:27px;background:#ffff00"></div>
<div style="left:1837px;top:462px;width:71px;height:27px;background:#4fec31"></div>
<div style="left:9px;top:432px;width:179px;height:2px;background:#000"></div>
<div style="left:9px;top:489px;width:179px;height:2px;background:#000"></div>
<div style="left:9px;top:432px;width:2px;height:59px;background:#000"></div>
<div style="left:186px;top:432px;width:2px;height:59px;background:#000"></div>
<div style="left:99px;top:432px;width:2px;height:59px;background:#000"></div>
<div style="left:100px;top:460px;width:88px;height:2px;background:#000"></div>
<div style="left:192px;top:432px;width:1718px;height:2px;background:#000"></div>
<div style="left:192px;top:489px;width:1718px;height:2px;background:#000"></div>
<div style="left:192px;top:432px;width:2px;height:59px;background:#000"></div>
<div style="left:1908px;top:432px;width:2px;height:59px;background:#000"></div>
<div style="left:192px;top:460px;width:1718px;height:2px;background:#000"></div>
<div style="left:262px;top:432px;width:2px;height:59px;background:#000"></div>
<div style="left:333px;top:432px;width:2px;height:59px;background:#000"></div>
<div style="left:403px;top:432px;width:2px;height:59px;background:#000"></div>
<div style="left:473px;top:432px;width:2px;height:59px;background:#000"></div>
<div style="left:543px;top:432px;width:2px;height:59px;background:#000"></div>
<div style="left:614px;top:432px;width:2px;height:59px;background:#000"></div>
<div style="left:684px;top:432px;width:2px;height:59px;background:#000"></div>
<div style="left:754px;top:432px;width:2px;height:59px;background:#000"></div>
<div style="left:825px;top:432px;width:2px;height:59px;background:#000"></div>
<div style="left:897px;top:432px;width:2px;height:59px;background:#000"></div>
<div style="left:969px;top:432px;width:2px;height:59px;background:#000"></div>
<div style="left:1042px;top:432px;width:2px;height:59px;background:#000"></div>
<div style="left:1114px;top:432px;width:2px;height:59px;background:#000"></div>
<div style="left:1186px;top:432px;width:2px;height:59px;background:#000"></div>
<div style="left:1258px;top:432px;width:2px;height:59px;background:#000"></div>
<div style="left:1331px;top:432px;width:2px;height:59px;background:#000"></div>
<div style="left:1403px;top:432px;width:2px;height:59px;background:#000"></div>
<div style="left:1475px;top:432px;width:2px;height:59px;background:#000"></div>
<div style="left:1547px;top:432px;width:2px;height:59px;background:#000"></div>
<div style="left:1620px;top:432px;width:2px;height:59px;background:#000"></div>
<div style="left:1692px;top:432px;width:2px;height:59px;background:#000"></div>
<div style="left:1764px;top:432px;width:2px;height:59px;background:#000"></div>
<div style="left:1836px;top:432px;width:2px;height:59px;background:#000"></div>
<div style="left:188px;top:432px;width:4px;height:2px;background:#000"></div>
<div class="rl" style="left:11px;width:88px;top:452px;transform:scaleY(1.07)">6</div>
<div class="rl" style="left:101px;width:85px;top:438px;transform:scaleY(1.07)">6.1</div>
<div class="rl" style="left:101px;width:85px;top:467px;transform:scaleY(1.07)">6.2</div>
<div style="left:11px;top:508px;width:19px;height:19px;background:#ff0000;border:1px solid #222"></div>
<span class="lg" style="left:40px;top:509px;transform:scaleY(1.03)">Червоний – вимкнення електроенергії</span>
<div style="left:345px;top:508px;width:19px;height:19px;background:#ffff00;border:1px solid #222"></div>
<span class="lg" style="left:374px;top:509px;transform:scaleY(1.03)">Жовтий – час на перемикання (можлива відсутність електроенергії)</span>
<div style="left:922px;top:508px;width:19px;height:19px;background:#33cc33;border:1px solid #222"></div>
<span class="lg" style="left:951px;top:509px;transform:scaleY(1.03)">Зелений – подача електроенергії</span>
</body></html>
